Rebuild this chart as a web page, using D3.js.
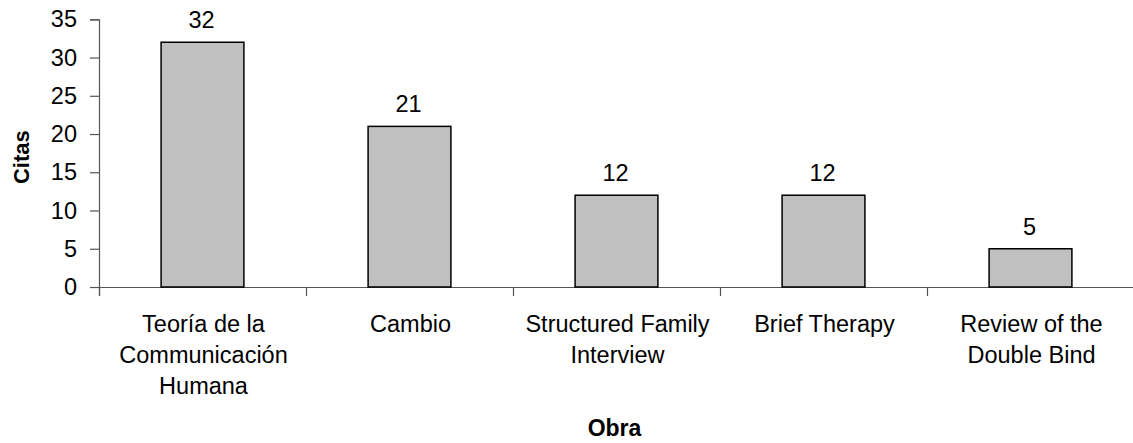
<!DOCTYPE html>
<html>
<head>
<meta charset="utf-8">
<script src="https://cdn.jsdelivr.net/npm/d3@7"></script>
<style>
  body { margin: 0; background: #fff; }
  text { font-family: "Liberation Sans", Arial, sans-serif; fill: #000; }
</style>
</head>
<body>
<svg width="1133" height="443"></svg>
<script>
// data
const obras = ["Teoría de la\nCommunicación\nHumana", "Cambio", "Structured Family\nInterview", "Brief Therapy", "Review of the\nDouble Bind"];
const citas = [32, 21, 12, 12, 5];
const yTicks = [0, 5, 10, 15, 20, 25, 30, 35];

var svg = d3.select("svg");
var plotLeft = 99, plotRight = 1134, plotTop = 19.3, plotBottom = 287;

var x = d3.scaleBand().domain(obras).range([plotLeft, plotRight]);
var xEdges = d3.scaleLinear().domain([0, obras.length]).range([plotLeft, plotRight]);
var y = d3.scaleLinear().domain([0, 35]).range([plotBottom, plotTop]);

// y axis
var yAxis = svg.append("g")
    .attr("transform", "translate(" + plotLeft + ",0)")
    .call(d3.axisLeft(y).tickValues(yTicks).tickSize(9).tickPadding(13));
yAxis.select(".domain").attr("stroke", "#555").attr("stroke-width", 1.2);
yAxis.selectAll(".tick line").attr("stroke", "#555").attr("stroke-width", 1.2);
yAxis.selectAll(".tick text")
    .style("font-size", "23.5px")
    .style("font-family", "Liberation Sans, Arial, sans-serif")
    .attr("fill", "#000");

// x axis: ticks sit between categories
var xAxis = svg.append("g")
    .attr("transform", "translate(0," + plotBottom + ")")
    .call(d3.axisBottom(xEdges).ticks(obras.length).tickSize(9).tickFormat(""));
xAxis.select(".domain").attr("stroke", "#555").attr("stroke-width", 1.2);
xAxis.selectAll(".tick line").attr("stroke", "#555").attr("stroke-width", 1.2);

// bars
var bw = x.bandwidth() * 0.4;
svg.append("g")
    .selectAll("rect")
    .data(obras)
    .enter()
    .append("rect")
    .attr("x", (d) => x(d) + x.bandwidth() / 2 - bw / 2)
    .attr("y", (d, i) => y(citas[i]))
    .attr("width", bw)
    .attr("height", (d, i) => y(0) - y(citas[i]))
    .attr("fill", "#c0c0c0")
    .attr("stroke", "#000")
    .attr("stroke-width", 1.5);

// value labels
svg.append("g")
    .selectAll("text")
    .data(obras)
    .enter()
    .append("text")
    .attr("x", (d) => x(d) + x.bandwidth() / 2 - 1)
    .attr("y", (d, i) => y(citas[i]) - 14)
    .attr("text-anchor", "middle")
    .style("font-size", "23.5px")
    .text((d, i) => citas[i]);

// category labels
var cat = svg.append("g")
    .selectAll("text")
    .data(obras)
    .enter()
    .append("text")
    .attr("text-anchor", "middle")
    .style("font-size", "23.5px")
    .attr("transform", (d) => "translate(" + (x(d) + x.bandwidth() / 2 + 1) + ",332)");
cat.selectAll("tspan")
    .data((d) => d.split("\n"))
    .enter()
    .append("tspan")
    .attr("x", 0)
    .attr("y", (d, i) => i * 31)
    .text((d) => d);

// axis titles
svg.append("text")
    .attr("transform", "translate(29," + ((plotTop + plotBottom) / 2 + 4) + ") rotate(-90)")
    .attr("text-anchor", "middle")
    .style("font-size", "22px")
    .style("font-weight", "bold")
    .text("Citas");

svg.append("text")
    .attr("x", (plotLeft + plotRight) / 2 - 2)
    .attr("y", 436)
    .attr("text-anchor", "middle")
    .style("font-size", "23px")
    .style("font-weight", "bold")
    .text("Obra");
</script>
</body>
</html>
